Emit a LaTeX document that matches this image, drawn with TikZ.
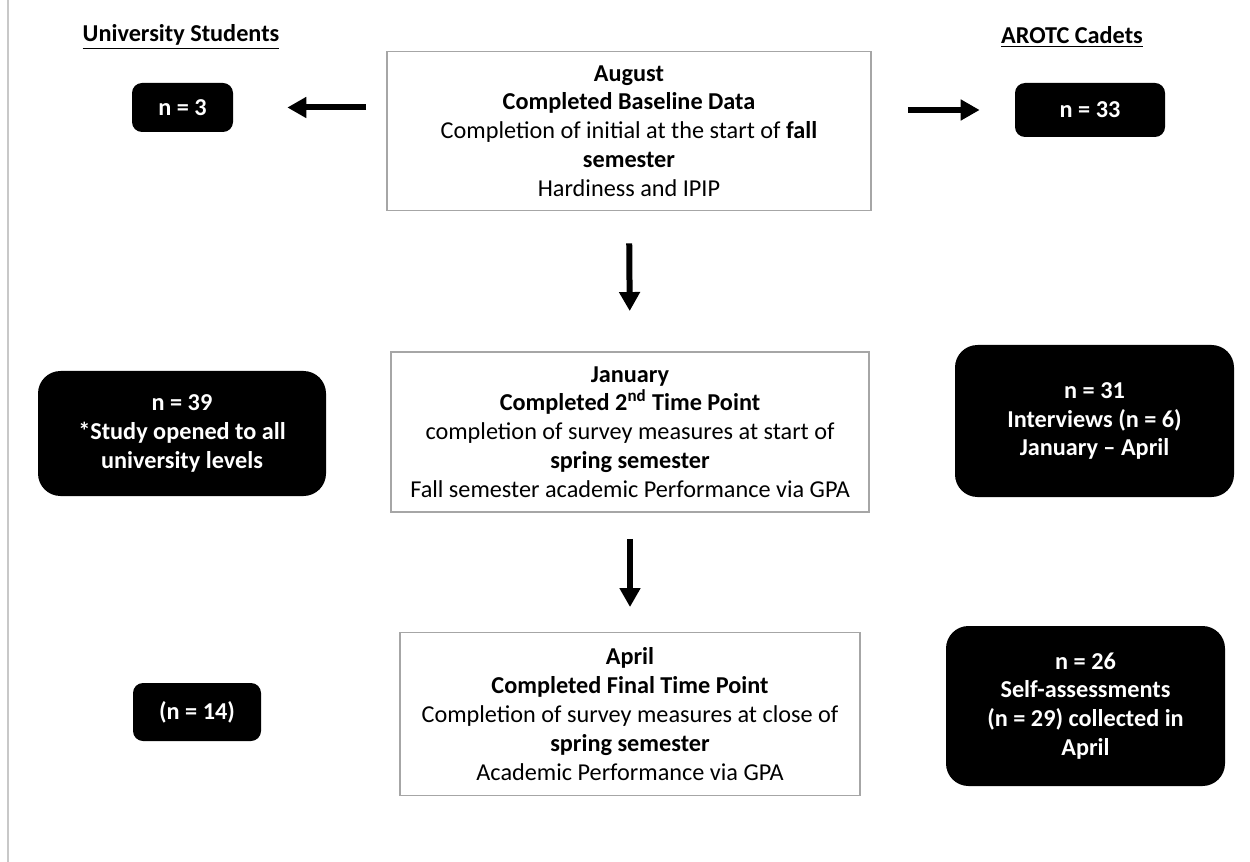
\documentclass[tikz,border=0pt]{standalone}
\usepackage{fontspec}
\setmainfont{Carlito}
\usetikzlibrary{arrows.meta}
\definecolor{frame}{HTML}{A6A6A6}
\definecolor{pageline}{HTML}{C8C8C8}

\begin{document}
\begin{tikzpicture}[
    font=\fontsize{13.8}{16.4}\selectfont,
    stage/.style={draw=frame, line width=1.1pt, align=center, inner sep=0pt},
    nbox/.style={fill=black, text=white, font=\fontsize{13.8}{16.4}\selectfont\bfseries,
      align=center, inner sep=0pt, rounded corners=#1},
    nbox/.default=0.2cm,
    flow/.style={line width=0.12cm, -{Triangle[length=0.38cm,width=0.4cm]}}
  ]
  \useasboundingbox (0,0) rectangle (25,-17.24);
  % page edge
  \draw[pageline, line width=0.8pt] (0.16,0) -- (0.16,-17.24);

  % Group headings
  \node[font=\fontsize{13.8}{16.4}\selectfont\bfseries] (hdrU) at (3.62,-0.74) {\underline{University Students}};
  \node[font=\fontsize{13.8}{16.4}\selectfont\bfseries] (hdrA) at (21.44,-0.74) {\underline{AROTC Cadets}};

  % Time points
  \node[stage, minimum width=9.68cm, minimum height=3.18cm] (aug) at (12.58,-2.62)
    {\textbf{August}\\ \textbf{Completed Baseline Data}\\ Completion of initial at the start of \textbf{fall}\\
     \textbf{semester}\\ Hardiness and IPIP};
  \node[stage, minimum width=9.56cm, minimum height=3.2cm] (jan) at (12.6,-8.64)
    {\textbf{January}\\ \textbf{Completed 2\textsuperscript{nd} Time Point}\\ completion of survey measures at start of\\
     \textbf{spring semester}\\ Fall semester academic Performance via GPA};
  \node[stage, minimum width=9.2cm, minimum height=3.26cm] (apr) at (12.6,-14.28)
    {\textbf{April}\\ \textbf{Completed Final Time Point}\\ Completion of survey measures at close of\\
     \textbf{spring semester}\\ Academic Performance via GPA};

  % University students
  \node[nbox, minimum width=2.02cm, minimum height=0.98cm] (n3) at (3.65,-2.15) {n = 3};
  \node[nbox=0.45cm, minimum width=5.76cm, minimum height=2.5cm] (n39) at (3.64,-8.67)
    {n = 39\\ *Study opened to all\\ university levels};
  \node[nbox, minimum width=2.56cm, minimum height=1.16cm] (n14) at (3.94,-14.24) {(n = 14)};

  % Cadets
  \node[nbox, minimum width=3.0cm, minimum height=1.08cm] (n33) at (21.8,-2.2) {n = 33};
  \node[nbox=0.45cm, minimum width=5.58cm, minimum height=3.04cm] (n31) at (21.89,-8.42)
    {n = 31\\ Interviews (n = 6)\\ January -- April};
  \node[nbox=0.45cm, minimum width=5.58cm, minimum height=3.2cm] (n26) at (21.71,-14.12)
    {n = 26\\ Self-assessments\\ (n = 29) collected in\\ April};

  % Arrows
  \draw[flow, shorten <=0.4cm, shorten >=1.08cm] (aug.west |- n3.east) -- (n3.east);
  \draw[flow, shorten <=0.72cm, shorten >=0.7cm] (aug.east |- n33.west) -- (n33.west);
  \draw[flow, shorten <=0.64cm, shorten >=0.8cm] (aug.south) -- (jan.north);
  \draw[flow, shorten <=0.52cm, shorten >=0.49cm] (jan.south) -- (apr.north);
\end{tikzpicture}
\end{document}
